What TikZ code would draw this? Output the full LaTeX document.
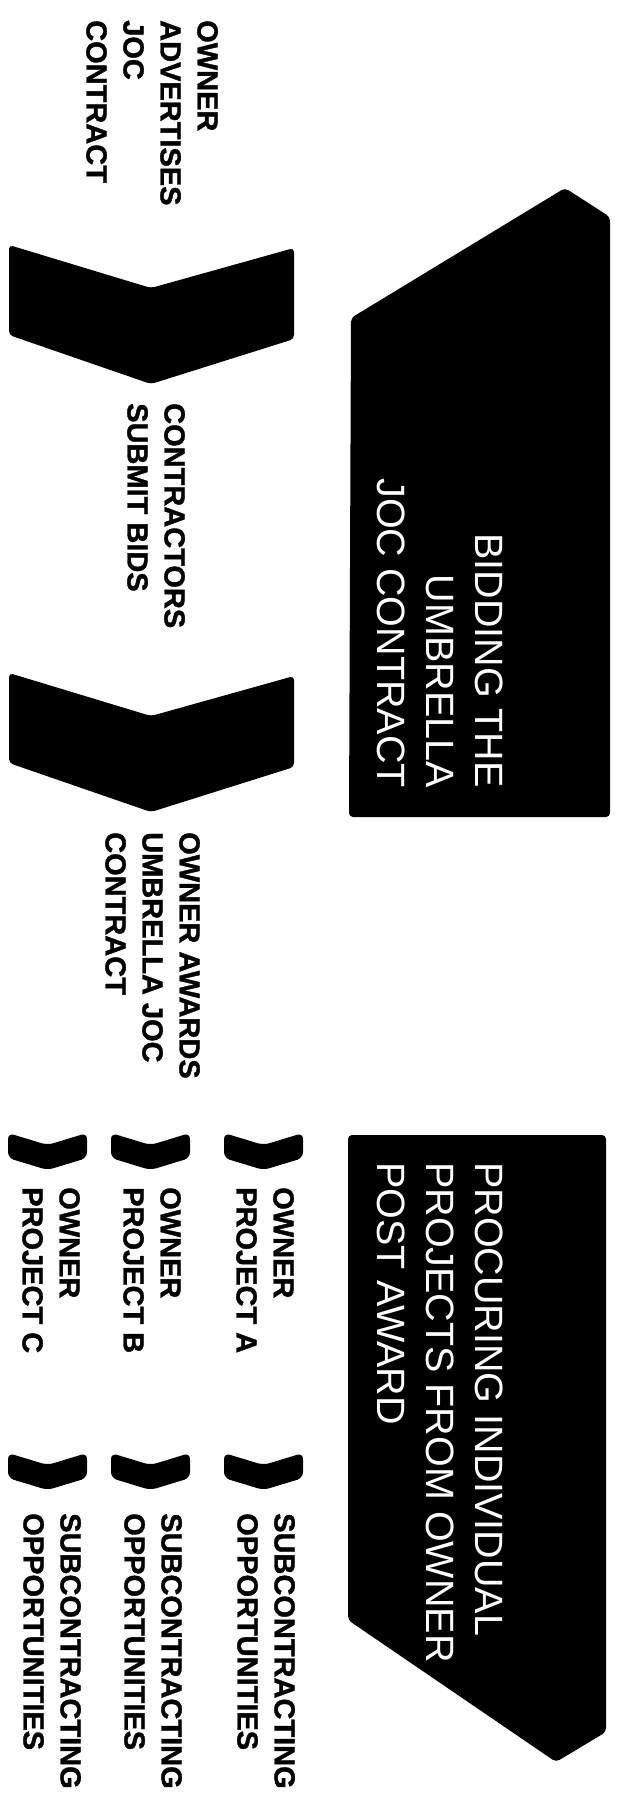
\documentclass[tikz,border=0pt]{standalone}
\usepackage{fontspec}
\setmainfont{Liberation Sans}
\newfontfamily\lblfont[FakeBold=1.3]{Liberation Sans Bold}
\begin{document}
\begin{tikzpicture}[x=1pt, y=-1pt,
  lbl/.style={rotate=-90, anchor=north west, inner sep=0pt, align=left, font=\lblfont\fontsize{29}{37}\selectfont},
  boxtxt/.style={rotate=-90, inner sep=0pt, text=white, font=\fontsize{39.5}{49}\selectfont},
  chev/.style={fill=black, rounded corners=4pt}]
\useasboundingbox (0,0) rectangle (621,1807);
\fill[chev] (351,318) -- (565,188) -- (610,217) -- (610,817) -- (349,817) -- cycle;
\fill[chev] (348,1135) -- (606,1135) -- (606,1732) -- (556,1762) -- (348,1620) -- cycle;
\foreach \t in {245,673}
  \fill[chev] (9,\t) -- (151,\t+43) -- (294,\t+3) -- (294,\t+94) -- (151,\t+139) -- (9,\t+90) -- cycle;
\foreach \x in {224,111,8}
  \foreach \t in {1133,1453}
    \fill[chev, rounded corners=6pt] (\x,\t) -- (\x+39.5,\t+12) -- (\x+79,\t) -- (\x+79,\t+25) -- (\x+39.5,\t+37) -- (\x,\t+25) -- cycle;
\node[lbl] (adv) at (218,20) {OWNER\\ADVERTISES\\JOC\\CONTRACT};
\node[lbl] (bids) at (185,403) {CONTRACTORS\\SUBMIT BIDS};
\node[lbl] (award) at (200,832) {OWNER AWARDS\\UMBRELLA JOC\\CONTRACT};
\node[boxtxt, anchor=north east, align=right] (bidding) at (503,788) {BIDDING THE\\UMBRELLA\\JOC CONTRACT};
\node[boxtxt, anchor=north west, align=left] (procuring) at (503,1162) {PROCURING INDIVIDUAL\\PROJECTS FROM OWNER\\POST AWARD};
\foreach \x/\p in {294/A,181/B,80/C} {
  \node[lbl] (own\p) at (\x,1187) {OWNER\\PROJECT \p};
  \node[lbl] (sub\p) at (\x+1,1513) {SUBCONTRACTING\\OPPORTUNITIES};
}
\end{tikzpicture}
\end{document}
